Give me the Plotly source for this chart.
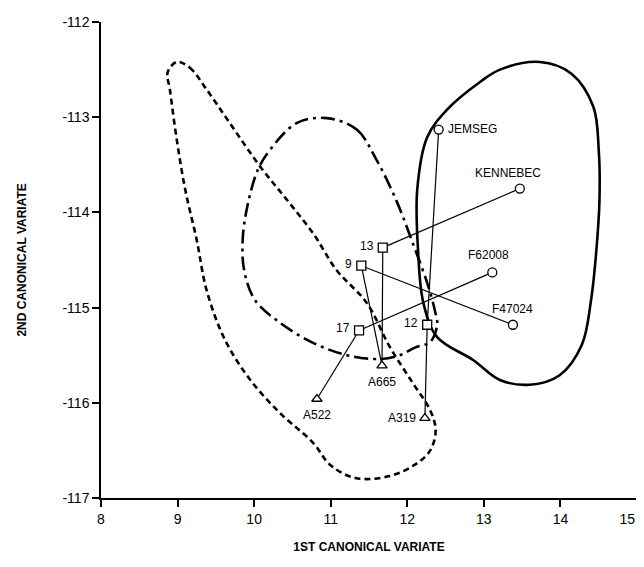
import plotly.graph_objects as go

# ---- point data ----
clone_names = ["13", "9", "17", "12"]
clone_x = [11.68, 11.40, 11.37, 12.26]
clone_y = [-114.37, -114.56, -115.24, -115.18]

parent_names = ["JEMSEG", "KENNEBEC", "F62008", "F47024"]
parent_x = [12.41, 13.47, 13.11, 13.38]
parent_y = [-113.13, -113.75, -114.63, -115.18]

tri_names = ["A665", "A522", "A319"]
tri_x = [11.67, 10.82, 12.23]
tri_y = [-115.61, -115.96, -116.16]

# links: clone -> parent, clone -> triangle
link_clone_parent = [("13", "KENNEBEC"), ("9", "F47024"), ("17", "F62008"), ("12", "JEMSEG")]
link_clone_tri = [("13", "A665"), ("9", "A665"), ("17", "A522"), ("12", "A319")]

# ---- contour outlines ----
solid_x = [13.73, 14.14, 14.43, 14.50, 14.51, 14.47, 14.40, 14.28, 13.99, 13.60, 13.21, 12.86,
           12.39, 12.21, 12.14, 12.13, 12.26, 12.52, 12.95, 13.21, 13.73]
solid_y = [-112.42, -112.54, -112.89, -113.34, -113.87, -114.39, -114.92, -115.39, -115.71, -115.81,
           -115.76, -115.55, -115.31, -114.95, -114.39, -113.76, -113.21, -112.92, -112.63, -112.50, -112.42]

dashdot_x = [10.95, 11.34, 11.60, 11.87, 12.07, 12.26, 12.36, 12.39, 12.30, 12.10, 11.90, 11.64,
             11.21, 10.77, 10.34, 10.01, 9.87, 9.85, 9.91, 10.05, 10.21, 10.56, 10.95]
dashdot_y = [-113.01, -113.13, -113.45, -113.90, -114.32, -114.74, -115.03, -115.18, -115.36, -115.42,
             -115.50, -115.54, -115.50, -115.37, -115.16, -114.92, -114.61, -114.29, -113.94, -113.55,
             -113.34, -113.06, -113.01]

dashed_x = [8.99, 9.16, 9.38, 9.68, 10.08, 10.43, 10.77, 11.08, 11.47, 11.77, 12.07, 12.30, 12.37,
            12.30, 12.10, 11.77, 11.32, 10.99, 10.77, 10.34, 9.95, 9.62, 9.38, 9.25, 9.10, 8.99,
            8.90, 8.87, 8.99]
dashed_y = [-112.42, -112.48, -112.71, -113.06, -113.52, -113.87, -114.22, -114.61, -114.95, -115.41,
            -115.79, -116.08, -116.29, -116.50, -116.65, -116.77, -116.79, -116.65, -116.42, -116.11,
            -115.76, -115.34, -114.82, -114.29, -113.76, -113.24, -112.71, -112.53, -112.42]

x_ticks = [8, 9, 10, 11, 12, 13, 14, 15]
x_ticktext = ["8", "9", "10", "11", "12", "13", "14", "15\u00a0\u00a0\u00a0\u00a0\u00a0"]
y_ticks = [-117, -116, -115, -114, -113, -112]

FONT = "Liberation Sans, Arial, sans-serif"

fig = go.Figure()

fig.add_trace(go.Scatter(x=solid_x, y=solid_y, mode="lines",
                         line=dict(color="black", width=2.6, shape="spline", smoothing=1.0),
                         hoverinfo="skip", showlegend=False))
fig.add_trace(go.Scatter(x=dashdot_x, y=dashdot_y, mode="lines",
                         line=dict(color="black", width=2.6, shape="spline", smoothing=1.0,
                                   dash="14px,5px,3px,5px"),
                         hoverinfo="skip", showlegend=False))
fig.add_trace(go.Scatter(x=dashed_x, y=dashed_y, mode="lines",
                         line=dict(color="black", width=2.6, shape="spline", smoothing=1.0,
                                   dash="6px,4px"),
                         hoverinfo="skip", showlegend=False))

cx = dict(zip(clone_names, clone_x)); cy = dict(zip(clone_names, clone_y))
px_ = dict(zip(parent_names, parent_x)); py_ = dict(zip(parent_names, parent_y))
tx = dict(zip(tri_names, tri_x)); ty = dict(zip(tri_names, tri_y))

for c, p in link_clone_parent:
    fig.add_trace(go.Scatter(x=[cx[c], px_[p]], y=[cy[c], py_[p]], mode="lines",
                             line=dict(color="black", width=1.2), hoverinfo="skip", showlegend=False))
for c, t in link_clone_tri:
    fig.add_trace(go.Scatter(x=[cx[c], tx[t]], y=[cy[c], ty[t]], mode="lines",
                             line=dict(color="black", width=1.2), hoverinfo="skip", showlegend=False))

mk = dict(color="white", size=9, line=dict(color="black", width=1.3))
fig.add_trace(go.Scatter(x=clone_x, y=clone_y, mode="markers",
                         marker=dict(symbol="square", **mk), showlegend=False))
fig.add_trace(go.Scatter(x=parent_x, y=parent_y, mode="markers",
                         marker=dict(symbol="circle", **mk), showlegend=False))
fig.add_trace(go.Scatter(x=tri_x, y=tri_y, mode="markers",
                         marker=dict(symbol="triangle-up", **mk), showlegend=False))

lab_font = dict(family=FONT, size=12, color="black")
for n, x, y in zip(clone_names, clone_x, clone_y):
    fig.add_annotation(x=x, y=y, text=n, showarrow=False, xanchor="right", yanchor="middle",
                       xshift=-7, yshift=2, font=lab_font)
p_pos = {"JEMSEG": dict(xanchor="left", yanchor="middle", xshift=7, yshift=1),
         "KENNEBEC": dict(xanchor="center", yanchor="bottom", xshift=-12, yshift=7),
         "F62008": dict(xanchor="center", yanchor="bottom", xshift=-4, yshift=8),
         "F47024": dict(xanchor="center", yanchor="bottom", xshift=0, yshift=7)}
for n, x, y in zip(parent_names, parent_x, parent_y):
    fig.add_annotation(x=x, y=y, text=n, showarrow=False, font=lab_font, **p_pos[n])
t_pos = {"A665": dict(xanchor="center", yanchor="top", xshift=0, yshift=-7),
         "A522": dict(xanchor="center", yanchor="top", xshift=0, yshift=-7),
         "A319": dict(xanchor="right", yanchor="middle", xshift=-7, yshift=0)}
for n, x, y in zip(tri_names, tri_x, tri_y):
    fig.add_annotation(x=x, y=y, text=n, showarrow=False, font=lab_font, **t_pos[n])

# y-axis title as annotation
fig.add_annotation(xref="paper", yref="paper", x=-0.165, y=0.5, text="<b>2ND CANONICAL VARIATE</b>",
                   textangle=-90, showarrow=False, font=dict(family=FONT, size=12, color="black"))

# page body has an 8px margin, so the figure is sized/placed to compensate
fig.update_layout(
    width=636, height=551,
    margin=dict(l=93, r=7, t=14, b=61, autoexpand=False),
    plot_bgcolor="white", paper_bgcolor="white",
    font=dict(family=FONT, size=13, color="black"),
    xaxis=dict(range=[8, 15], tickvals=x_ticks, ticktext=x_ticktext,
               showgrid=False, zeroline=False, showline=True, linecolor="black", linewidth=1.5,
               ticks="outside", ticklen=7, tickwidth=1.5, tickcolor="black", mirror=False,
               tickfont=dict(family=FONT, size=14), ticklabeloverflow="allow", automargin=False,
               title=dict(text="<b>1ST CANONICAL VARIATE</b>", font=dict(family=FONT, size=12),
                          standoff=17)),
    yaxis=dict(range=[-117, -112], tickvals=y_ticks, ticktext=[str(v) for v in y_ticks],
               showgrid=False, zeroline=False, showline=True, linecolor="black", linewidth=1.5,
               ticks="outside", ticklen=7, tickwidth=1.5, tickcolor="black",
               tickfont=dict(family=FONT, size=14), ticklabeloverflow="allow", automargin=False),
)
fig.add_shape(type="line", xref="paper", yref="paper", x0=1, x1=1, y0=0, y1=1,
              line=dict(color="black", width=2))

fig.write_html("out.html")
